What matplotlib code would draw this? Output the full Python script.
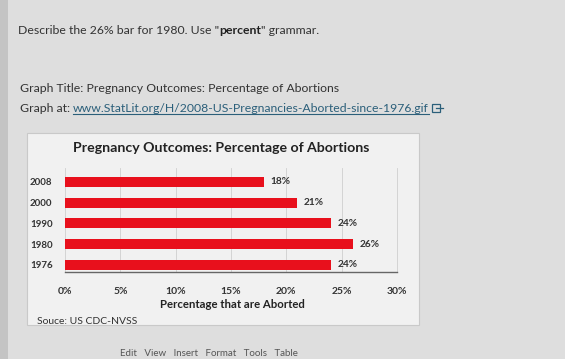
import matplotlib.pyplot as plt
from matplotlib.patches import Rectangle

# Chart data
years = ['2008', '2000', '1990', '1980', '1976']
pctAborted = [18, 21, 24, 26, 24]
xTicks = [0, 5, 10, 15, 20, 25, 30]
xTickLabels = ['0%', '5%', '10%', '15%', '20%', '25%', '30%']

W, H = 565, 359
plt.rcParams['font.family'] = ['Lato', 'DejaVu Sans']

fig = plt.figure(figsize=(W/100, H/100), dpi=100)
fig.patch.set_facecolor('#dedede')
r = fig.canvas.get_renderer()

def fx(px):
    return px / W

def fy(py):
    return 1 - py / H

def box(x0, y0, x1, y1, **kw):
    fig.patches.append(Rectangle((fx(x0), fy(y1)), fx(x1 - x0), (y1 - y0) / H,
                                 transform=fig.transFigure, **kw))

# darker strip at the left edge of the photo
box(0, 0, 8, H, facecolor='#c4c4c4', edgecolor='none', zorder=0)

pageSize = 8.8

# Page text: question line with a bold word
a = fig.text(fx(18), fy(30), 'Describe the 26% bar for 1980. Use "', fontsize=pageSize,
             color='#333333', va='center')
bb = a.get_window_extent(renderer=r)
b = fig.text(bb.x1 / W, fy(30), 'percent', fontsize=pageSize, fontweight='bold',
             color='#222222', va='center')
bb2 = b.get_window_extent(renderer=r)
fig.text(bb2.x1 / W, fy(30), '" grammar.', fontsize=pageSize, color='#333333', va='center')

fig.text(fx(20), fy(88), 'Graph Title: Pregnancy Outcomes: Percentage of Abortions',
         fontsize=pageSize, color='#333333', va='center')
g = fig.text(fx(20), fy(108), 'Graph at: ', fontsize=pageSize, color='#333333', va='center')
gb = g.get_window_extent(renderer=r)
link = fig.text(gb.x1 / W, fy(108), 'www.StatLit.org/H/2008-US-Pregnancies-Aborted-since-1976.gif',
                fontsize=pageSize, color='#2b5f7a', va='center')
lb = link.get_window_extent(renderer=r)
fig.lines.append(plt.Line2D([lb.x0 / W, lb.x1 / W], [fy(114), fy(114)],
                            transform=fig.transFigure, color='#2b5f7a', lw=0.8))
# external-link icon
ix = lb.x1 + 3
box(ix, 104, ix + 8, 112, facecolor='none', edgecolor='#2b5f7a', lw=0.9, zorder=1)
fig.lines.append(plt.Line2D([fx(ix + 4), fx(ix + 11)], [fy(108), fy(108)],
                            transform=fig.transFigure, color='#2b5f7a', lw=0.9))

# toolbar at the bottom (cut off in the photo)
fig.text(fx(120), fy(353), 'Edit   View   Insert   Format   Tools   Table',
         fontsize=7, color='#555555', va='center')

# Chart image box
box(27, 133, 419, 325, facecolor='#f1f1f1', edgecolor='#c9c9c9', lw=0.8, zorder=0)

fig.text(fx(221), fy(148), 'Pregnancy Outcomes: Percentage of Abortions',
         fontsize=10.2, fontweight='bold', color='#222222', ha='center', va='center')

# Plot area
left, right, top, bottom = 65, 397, 168, 272
ax = fig.add_axes([fx(left), fy(bottom), fx(right - left), (bottom - top) / H])
ax.set_zorder(2)
ax.set_facecolor('#f1f1f1')

pos = list(range(len(years)))
ax.barh(pos, pctAborted, height=0.48, color='#e8101c', zorder=3)
for p, v in zip(pos, pctAborted):
    ax.text(v + 0.6, p, '%d%%' % v, fontsize=7.3, fontweight='bold',
            color='#333333', va='center')

ax.set_xlim(0, 30)
ax.set_ylim(4.34, -0.67)
ax.set_yticks(pos)
ax.set_yticklabels(years, fontsize=7, fontweight='bold', color='#333333')
ax.set_xticks(xTicks)
ax.set_xticklabels(xTickLabels, fontsize=7.5, fontweight='bold', color='#333333')
ax.tick_params(length=0)
ax.tick_params(axis='y', pad=9)
ax.tick_params(axis='x', pad=11)
ax.grid(axis='x', color='#cfcfcf', lw=0.6, zorder=0)
for s in ['top', 'left']:
    ax.spines[s].set_visible(False)
ax.spines['right'].set_color('#cfcfcf')
ax.spines['right'].set_linewidth(0.6)
ax.spines['bottom'].set_color('#666666')
ax.spines['bottom'].set_linewidth(1.0)

fig.text(fx(232), fy(305), 'Percentage that are Aborted', fontsize=8.2,
         fontweight='bold', color='#222222', ha='center', va='center')
fig.text(fx(37), fy(322), 'Souce: US CDC-NVSS', fontsize=7.5, color='#333333', va='center')

fig.savefig('out.png', dpi=100, facecolor=fig.get_facecolor())
